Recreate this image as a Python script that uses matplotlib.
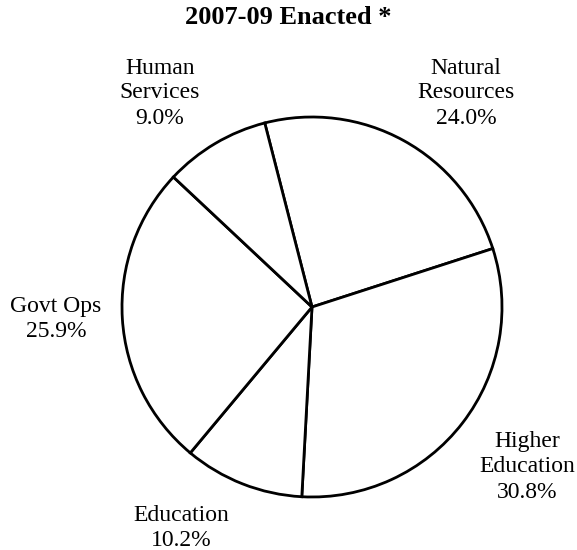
import matplotlib.pyplot as plt

categories = ['Natural\nResources', 'Higher\nEducation', 'Education', 'Govt Ops', 'Human\nServices']
shares = [24.0, 30.8, 10.2, 25.9, 9.0]
title = '2007-09 Enacted *'

# label centres in pixel space (figure is 577 x 550)
label_pos = [(466, 457), (527, 83), (181, 22), (56, 231), (160, 457)]

plt.rcParams['font.family'] = ['Liberation Serif', 'DejaVu Serif']

fig = plt.figure(figsize=(5.77, 5.5), dpi=100)
ax = fig.add_axes([0, 0, 1, 1])

ax.pie(shares, center=(312, 243), radius=190, startangle=104.4,
       counterclock=False, colors=['white'] * len(shares),
       wedgeprops=dict(edgecolor='black', linewidth=2))
ax.set_xlim(0, 577)
ax.set_ylim(0, 550)
ax.set_aspect('equal')
ax.axis('off')

for name, val, (x, y) in zip(categories, shares, label_pos):
    ax.text(x, y, f'{name}\n{val:.1f}%', ha='center', va='center',
            fontsize=17, linespacing=1.25)

ax.text(288, 532, title, ha='center', va='center', fontsize=19, fontweight='bold')

fig.savefig('out.png', dpi=100)
